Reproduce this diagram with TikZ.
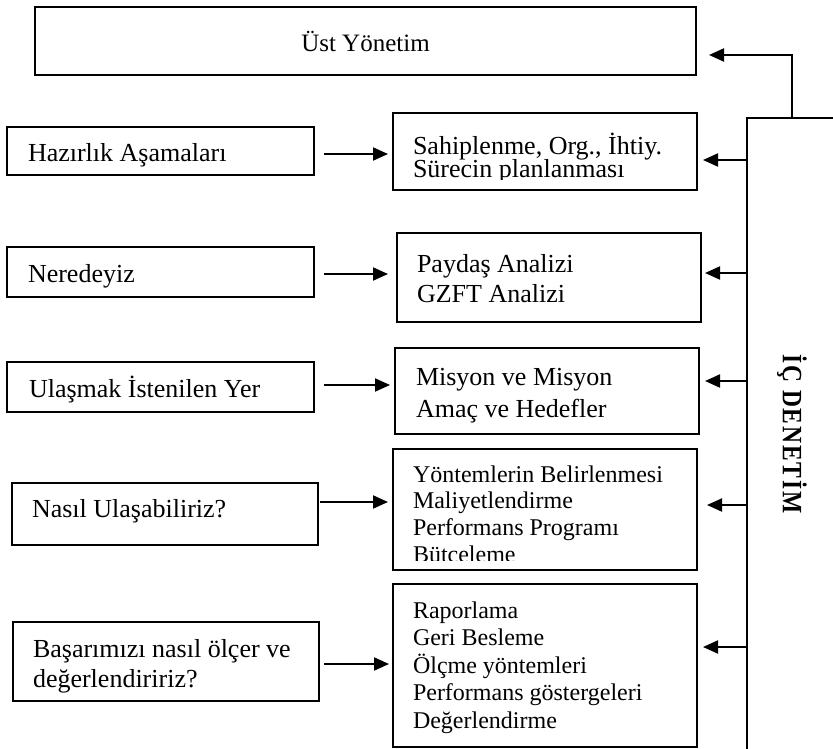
\documentclass[tikz,border=0pt]{standalone}
\usepackage{fontspec}
\setmainfont{Liberation Serif}
\usetikzlibrary{arrows.meta}
\newcommand\boxtxt[3]{\parbox[t]{300pt}{\fontsize{#1}{#2}\selectfont\lineskiplimit=-50pt\lineskip=0pt\relax #3}}
\begin{document}
\begin{tikzpicture}[x=1pt,y=-1pt,
  box/.style={draw, line width=1.8pt, anchor=north west, inner sep=0pt, outer sep=0pt},
  conn/.style={line width=2pt, -{Triangle[length=15pt,width=13pt]}},
  lbl/.style={anchor=base west, inner sep=0pt, outer sep=0pt},
]
\clip (0,0) rectangle (833,749);
\fill[white] (0,0) rectangle (833,749);

% boxes
\node[box, minimum width=661pt, minimum height=68pt, anchor=center,
      font=\fontsize{25}{29}\selectfont] (top) at (365.5,41) {Üst Yönetim};
\node[box, minimum width=307pt, minimum height=48pt] (L1) at (7,127) {};
\node[box, minimum width=307pt, minimum height=50pt] (L2) at (7,247) {};
\node[box, minimum width=307pt, minimum height=50pt] (L3) at (7,362) {};
\node[box, minimum width=306pt, minimum height=62pt] (L4) at (12,483) {};
\node[box, minimum width=306pt, minimum height=79pt] (L5) at (13,622) {};
\node[box, minimum width=304pt, minimum height=77pt] (R1) at (393,113) {};
\node[box, minimum width=304pt, minimum height=89pt] (R2) at (397,233) {};
\node[box, minimum width=304pt, minimum height=86pt] (R3) at (395,348) {};
\node[box, minimum width=304pt, minimum height=121pt] (R4) at (393,449) {};
\node[box, minimum width=304pt, minimum height=163pt] (R5) at (393,584) {};
\node[box, minimum width=150pt, minimum height=700pt] (ic) at (747,118) {};

% texts
\node[lbl] (tL1) at (28,162) {\boxtxt{26}{30}{Hazırlık Aşamaları}};
\node[lbl] (tL2) at (28,282) {\boxtxt{26}{30}{Neredeyiz}};
\node[lbl] (tL3) at (29,397) {\boxtxt{26}{30}{Ulaşmak İstenilen Yer}};
\node[lbl] (tL4) at (32,517) {\boxtxt{26}{30}{Nasıl Ulaşabiliriz?}};
\begin{scope}
  \clip (L5.north west) rectangle ([yshift=9pt]L5.south east);
  \node[lbl] (tL5) at (33,657) {\boxtxt{26}{30}{Başarımızı nasıl ölçer ve\\değerlendiririz?}};
\end{scope}
\begin{scope}
  \clip (R1.north west) rectangle ([yshift=10pt]R1.south east);
  \node[lbl] (tR1) at (413,155) {\boxtxt{26}{23}{Sahiplenme, Org., İhtiy.\\Sürecin planlanması}};
\end{scope}
\node[lbl] (tR2) at (417,272) {\boxtxt{26}{30}{Paydaş Analizi\\GZFT Analizi}};
\node[lbl] (tR3) at (416,385) {\boxtxt{26}{32}{Misyon ve Misyon\\Amaç ve Hedefler}};
\begin{scope}
  \clip (R4.north west) rectangle ([yshift=10pt]R4.south east);
  \node[lbl] (tR4) at (413,482) {\boxtxt{24}{26.7}{Yöntemlerin Belirlenmesi\\Maliyetlendirme\\Performans Programı\\Bütçeleme}};
\end{scope}
\node[lbl] (tR5) at (413,618) {\boxtxt{24}{27.5}{Raporlama\\Geri Besleme\\Ölçme yöntemleri\\Performans göstergeleri\\Değerlendirme}};

\node[rotate=-90, inner sep=0pt, font=\fontsize{28}{32}\selectfont\bfseries] (ictxt) at (792,434)
  {\scalebox{0.84}[1]{\addfontfeatures{LetterSpace=8}İÇ DENETİM}};

% left arrows
\draw[conn, shorten >=5pt] ([xshift=10pt,yshift=-3pt]L1.east) -- ([yshift=-3pt]L1.east -| R1.west);
\draw[conn, shorten >=9pt] ([xshift=10pt,yshift=-2pt]L2.east) -- ([yshift=-2pt]L2.east -| R2.west);
\draw[conn, shorten >=5pt] ([xshift=10pt,yshift=2pt]L3.east) -- ([yshift=2pt]L3.east -| R3.west);
\draw[conn, shorten >=5pt] ([xshift=2pt,yshift=12pt]L4.east) -- ([yshift=12pt]L4.east -| R4.west);
\draw[conn, shorten >=4pt] ([xshift=5pt,yshift=-2.5pt]L5.east) -- ([yshift=-2.5pt]L5.east -| R5.west);

% right arrows from İÇ DENETİM
\draw[conn, shorten >=6pt] (ic.west |- 0,160) -- (R1.east |- 0,160);
\draw[conn, shorten >=4pt] (ic.west |- 0,273) -- (R2.east |- 0,273);
\draw[conn, shorten >=6pt] (ic.west |- 0,381) -- (R3.east |- 0,381);
\draw[conn, shorten >=10pt] (ic.west |- 0,505) -- (R4.east |- 0,505);
\draw[conn, shorten >=6pt] (ic.west |- 0,647) -- (R5.east |- 0,647);

% to Üst Yönetim
\draw[conn, shorten >=13pt] (ic.north -| 792,0) -- (792,55) -- (top.east |- 0,55);
\end{tikzpicture}
\end{document}
